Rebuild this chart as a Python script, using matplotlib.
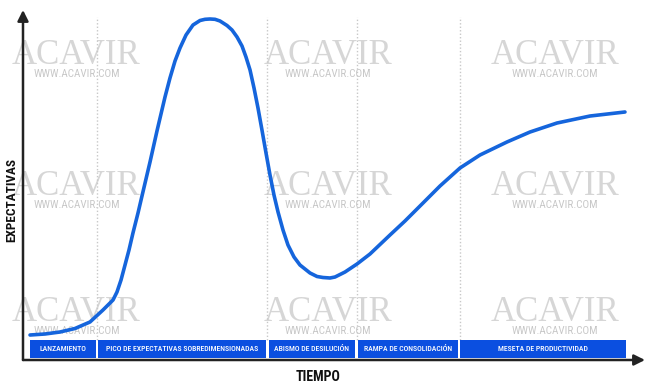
import matplotlib.pyplot as plt
from matplotlib.patches import Rectangle

# curva del ciclo de sobreexpectación (tiempo 0-100, expectativas 0-100)
tiempo = [1.13, 3.54, 5.95, 8.36, 10.77, 12.86, 14.47, 15.11, 15.76, 16.40,
          17.04, 17.68, 18.49, 19.13, 20.42, 21.54, 22.83, 23.63, 24.44,
          25.24, 26.21, 27.33, 28.46, 29.26, 30.06, 30.87, 31.67, 32.80,
          33.60, 34.41, 35.21, 35.85, 36.50, 37.14, 37.78, 38.42, 39.07,
          39.71, 40.35, 41.00, 41.80, 42.60, 43.57, 44.53, 46.14, 47.27,
          48.23, 49.36, 50.16, 51.77, 53.70, 55.79, 59.00, 61.41, 63.83,
          67.04, 70.26, 73.47, 77.81, 81.51, 85.85, 91.16, 96.78]
expectativas = [7.14, 7.43, 8.00, 9.00, 10.86, 14.29, 17.14, 19.43, 22.86,
                27.14, 31.43, 36.29, 42.00, 46.86, 56.57, 65.43, 75.14, 80.57,
                85.43, 89.14, 92.86, 95.71, 97.00, 97.34, 97.43, 97.34, 96.86,
                95.57, 94.29, 92.29, 89.71, 86.57, 82.86, 77.71, 72.00, 65.71,
                59.14, 52.86, 47.14, 42.29, 37.14, 32.86, 29.43, 27.14, 24.86,
                23.86, 23.57, 23.43, 23.71, 25.14, 27.43, 30.29, 35.71, 39.71,
                44.00, 49.71, 54.86, 58.57, 62.29, 65.14, 67.71, 69.71, 70.86]

fases = ['LANZAMIENTO', 'PICO DE EXPECTATIVAS SOBREDIMENSIONADAS',
         'ABISMO DE DESILUCIÓN', 'RAMPA DE CONSOLIDACIÓN',
         'MESETA DE PRODUCTIVIDAD']
fase_inicio = [1.1, 12.1, 39.5, 53.9, 70.3]
fase_fin = [11.7, 39.1, 53.4, 69.9, 97.0]
divisiones = [11.9, 39.2, 53.7, 70.3]

# marcas de agua (x, y) en coordenadas de datos
marca_x = [8.6, 49.0, 85.5]
marca_y = [87.0, 49.5, 13.5]

azul_linea = '#1565DC'
azul_caja = '#0B4FE0'
cond = 'Roboto Condensed'

fig = plt.figure(figsize=(6.5, 3.89), dpi=100)
ax = fig.add_axes([23 / 650, 29 / 389, 622 / 650, 350 / 389])
ax.set_xlim(0, 100)
ax.set_ylim(0, 100)
ax.axis('off')

# marcas de agua
for mx in marca_x:
    for my in marca_y:
        ax.text(mx, my, 'ACAVIR', family='Liberation Serif', fontsize=25,
                color='#d6d6d6', ha='center', va='center', zorder=1)
        ax.text(mx, my - 5.3, 'WWW.ACAVIR.COM', family=cond, fontsize=8,
                color='#c8c8c8', ha='center', va='center', zorder=1)

# divisiones punteadas
for d in divisiones:
    ax.plot([d, d], [5.7, 98], color='#c8c8c8', lw=1, ls=(0, (1, 1.5)),
            zorder=2)

# cajas de fases
for nombre, a, b in zip(fases, fase_inicio, fase_fin):
    ax.add_patch(Rectangle((a, 0.6), b - a, 5.1, color=azul_caja, lw=0,
                           zorder=3))
    ax.text((a + b) / 2, 3.15, nombre, family=cond, fontweight='medium',
            fontsize=5.6, color='white', ha='center', va='center', zorder=4)

ax.plot(tiempo, expectativas, color=azul_linea, lw=2.6,
        solid_capstyle='round', solid_joinstyle='round', zorder=5)

# ejes con flechas
flecha = dict(arrowstyle='-|>', lw=1.8, color='#222222', mutation_scale=16,
              shrinkA=0, shrinkB=0)
ax.annotate('', xy=(100, 0), xytext=(0, 0), arrowprops=flecha,
            annotation_clip=False, zorder=6)
ax.annotate('', xy=(0, 100), xytext=(0, 0), arrowprops=flecha,
            annotation_clip=False, zorder=6)

fig.text(318 / 650, 1 - 377 / 389, 'TIEMPO', family=cond,
         fontweight='bold', fontsize=10, color='#111111', ha='center',
         va='center')
fig.text(12 / 650, 1 - 200 / 389, 'EXPECTATIVAS', family=cond,
         fontweight='bold', fontsize=9.5, color='#111111', ha='center',
         va='center', rotation=90)

fig.savefig('out.png', dpi=100, facecolor='white')
